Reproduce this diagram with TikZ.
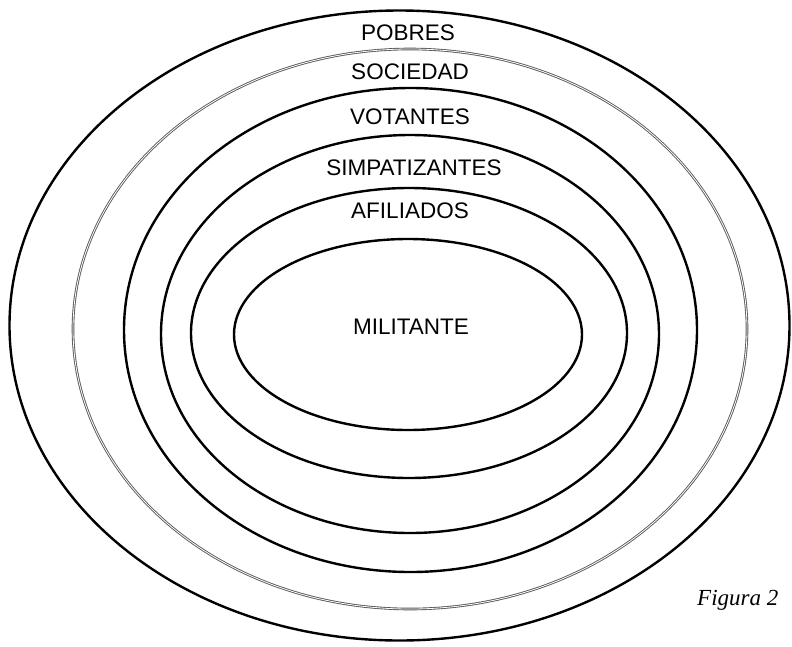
\documentclass[tikz,border=0pt]{standalone}
\usepackage{fontspec}
\setmainfont{Liberation Sans}
\newfontfamily\figfont{Liberation Serif}
\usetikzlibrary{shapes.geometric}
\begin{document}
\begin{tikzpicture}[x=1pt,y=-1pt,
  ring/.style={ellipse,draw=black,line width=2.4pt,inner sep=0pt},
  grayring/.style={ellipse,draw=gray!70!black,line width=0.9pt,double=white,double distance=0.8pt,inner sep=0pt},
  lbl/.style={font=\fontsize{22.5}{24}\selectfont,inner sep=0pt}]
\useasboundingbox (0,0) rectangle (792,646);
\node[ring,minimum width=780pt,minimum height=630pt] (pobres) at (399.5,325.5) {};
\node[grayring,minimum width=674pt,minimum height=560pt] (sociedad) at (410,329) {};
\node[ring,minimum width=573pt,minimum height=484pt] (votantes) at (410.5,330) {};
\node[ring,minimum width=498pt,minimum height=398pt] (simpat) at (410,334) {};
\node[ring,minimum width=436pt,minimum height=290pt] (afil) at (409,333) {};
\node[ring,minimum width=348pt,minimum height=191pt] (milit) at (408,334.5) {};
\node[lbl] (tpobres) at (408,33) {POBRES};
\node[lbl] (tsociedad) at (410,72) {SOCIEDAD};
\node[lbl] (tvotantes) at (410,117) {VOTANTES};
\node[lbl] (tsimpat) at (414,168) {SIMPATIZANTES};
\node[lbl] (tafil) at (410,211) {AFILIADOS};
\node[lbl] (tmilit) at (411,327) {MILITANTE};
\node[font=\figfont\itshape\fontsize{23}{24}\selectfont,inner sep=0pt,anchor=base west] (fig) at (697,605) {Figura 2};
\end{tikzpicture}
\end{document}
